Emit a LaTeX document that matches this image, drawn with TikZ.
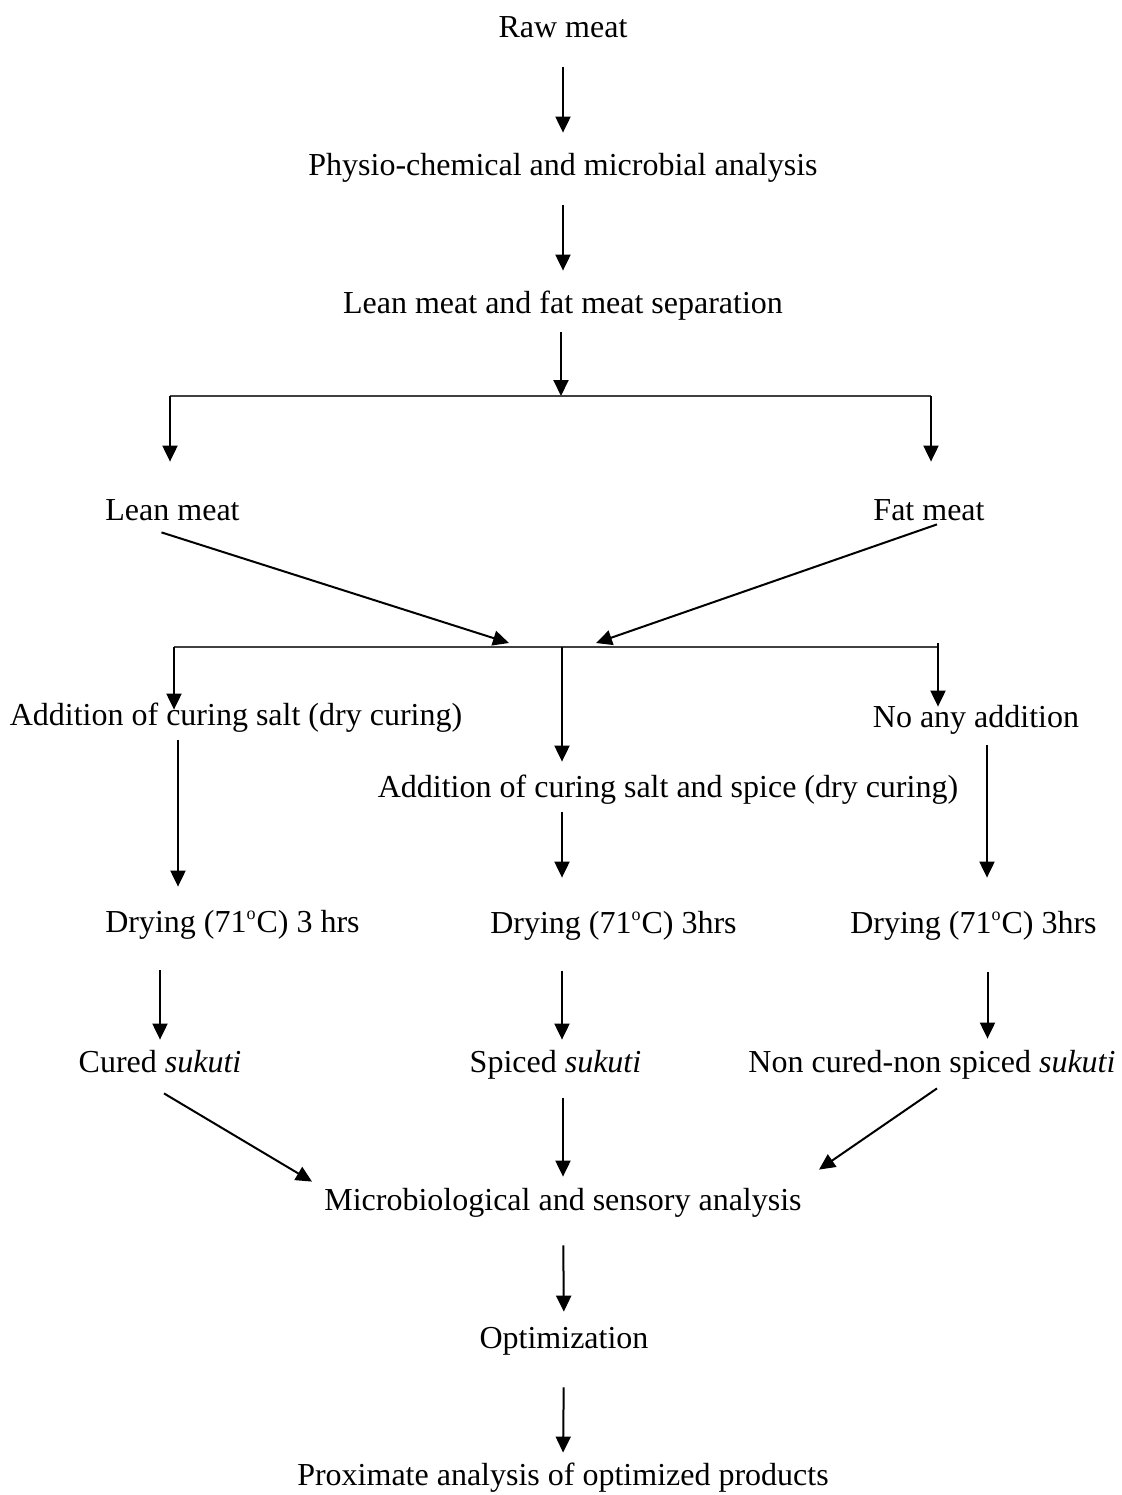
\documentclass[tikz,border=0pt]{standalone}
\usepackage{fontspec}
\setmainfont{Liberation Serif}
\usetikzlibrary{arrows.meta}
\tikzstyle{stage}=[anchor=base, inner sep=0pt, text height=11pt, text depth=3.5pt,
  font=\fontsize{16}{19}\selectfont]
\tikzstyle{line}=[draw, line width=1pt, -{Triangle[length=8pt,width=7.5pt]},
  shorten <=11.5pt, shorten >=10pt]
\tikzstyle{branch}=[draw, line width=0.75pt, color=black!75]
\newcommand{\flowstep}[2]{node (#1) [stage] {#2}}
\newcommand{\dego}{\textsuperscript{\fontsize{9}{9}\selectfont o}}

\begin{document}
\begin{tikzpicture}[x=0.5pt,y=-0.5pt]
  \useasboundingbox (0,0) rectangle (1121,1495);

  % preparation of the meat
  \path (563,37) \flowstep{RAWMEAT}{Raw meat};
  \path (563,175) \flowstep{PHYSIO}{Physio-chemical and microbial analysis};
  \path (563,313) \flowstep{SEPARATION}{Lean meat and fat meat separation};
  \path (172.5,520) \flowstep{LEANMEAT}{Lean meat};
  \path (929,520) \flowstep{FATMEAT}{Fat meat};

  % treatments
  \path (236,725) \flowstep{CURESALT}{Addition of curing salt (dry curing)};
  \path (976,727) \flowstep{NOADD}{No any addition};
  \path (668,797) \flowstep{SPICESALT}{Addition of curing salt and spice (dry curing)};
  \path (232.5,932) \flowstep{DRYLEFT}{Drying (71\dego C) 3 hrs};
  \path (613.5,933) \flowstep{DRYMID}{Drying (71\dego C) 3hrs};
  \path (973.5,933) \flowstep{DRYRIGHT}{Drying (71\dego C) 3hrs};

  % products and analysis
  \path (160,1072) \flowstep{CURED}{Cured \textit{sukuti}};
  \path (555.5,1072) \flowstep{SPICED}{Spiced \textit{sukuti}};
  \path (932,1072) \flowstep{NONCURED}{Non cured-non spiced \textit{sukuti}};
  \path (563,1210) \flowstep{MICRO}{Microbiological and sensory analysis};
  \path (564,1348) \flowstep{OPTIM}{Optimization};
  \path (563,1485) \flowstep{PROXIMATE}{Proximate analysis of optimized products};

  % junction points
  \coordinate (SPLIT) at (561,396);
  \coordinate (LEFTSPLIT) at (170,396);
  \coordinate (RIGHTSPLIT) at (931,396);
  \coordinate (MERGE) at (562,647);
  \coordinate (MERGELEFT) at (174,647);
  \coordinate (MERGERIGHT) at (938,647);
  \coordinate (LEANEND) at (509,643);
  \coordinate (FATEND) at (596,643);

  % Draw arrows between elements
  \path [line] (RAWMEAT.south) -- (PHYSIO.north);
  \path [line] (PHYSIO.south) -- (SEPARATION.north);
  \path [line, shorten <=6pt, shorten >=0pt] (SPLIT |- SEPARATION.south) -- (SPLIT);
  \path [branch] (LEFTSPLIT) -- (RIGHTSPLIT);
  \path [line, shorten <=0pt, shorten >=18pt] (LEFTSPLIT) -- (LEFTSPLIT |- LEANMEAT.north);
  \path [line, shorten <=0pt, shorten >=18pt] (RIGHTSPLIT) -- (RIGHTSPLIT |- FATMEAT.north);
  \path [line, shorten <=0pt, shorten >=0pt] ([xshift=-5.5pt,yshift=-2.5pt]LEANMEAT.south) -- (LEANEND);
  \path [line, shorten <=0pt, shorten >=0pt] ([xshift=4pt,yshift=1.5pt]FATMEAT.south) -- (FATEND);

  % three treatment branches
  \path [branch] (MERGELEFT) -- (MERGERIGHT);
  \path [line, shorten <=0pt, shorten >=-3.5pt] (MERGELEFT) -- (MERGELEFT |- CURESALT.north);
  \path [line, shorten <=0pt, shorten >=6.5pt] (MERGE) -- (MERGE |- SPICESALT.north);
  \path [line, shorten <=-2pt, shorten >=-1pt] (MERGERIGHT) -- (MERGERIGHT |- NOADD.north);
  \path [line, shorten <=4pt, shorten >=11.5pt] ([xshift=-29pt]CURESALT.south) -- ([xshift=-29pt]CURESALT.south |- DRYLEFT.north);
  \path [line, shorten <=4pt, shorten >=16.5pt] (MERGE |- SPICESALT.south) -- (MERGE |- DRYMID.north);
  \path [line, shorten <=5.5pt, shorten >=16.5pt] ([xshift=5.5pt]NOADD.south) -- ([xshift=5.5pt]NOADD.south |- DRYRIGHT.north);
  \path [line, shorten <=15.5pt, shorten >=5pt] (CURED.north |- DRYLEFT.south) -- (CURED.north);
  \path [line, shorten <=15.5pt, shorten >=5pt] (MERGE |- DRYMID.south) -- (MERGE |- SPICED.north);
  \path [line, shorten <=16pt, shorten >=5.5pt] ([xshift=7pt]DRYRIGHT.south) -- ([xshift=7pt]DRYRIGHT.south |- NONCURED.north);

  % products to analysis
  \path [line, shorten <=0pt, shorten >=0pt] ([xshift=2pt,yshift=-7pt]CURED.south) -- ([xshift=-125.5pt,yshift=3pt]MICRO.north);
  \path [line, shorten <=9.5pt, shorten >=5.5pt] (MICRO.north |- SPICED.south) -- (MICRO.north);
  \path [line, shorten <=0pt, shorten >=0pt] ([xshift=2.5pt,yshift=-4.5pt]NONCURED.south) -- ([xshift=128pt,yshift=9pt]MICRO.north);
  \path [line, shorten <=14pt, shorten >=7pt] (MICRO.south) -- (OPTIM.north);
  \path [line, shorten <=16pt, shorten >=5pt] (OPTIM.south) -- (PROXIMATE.north);
\end{tikzpicture}
\end{document}
